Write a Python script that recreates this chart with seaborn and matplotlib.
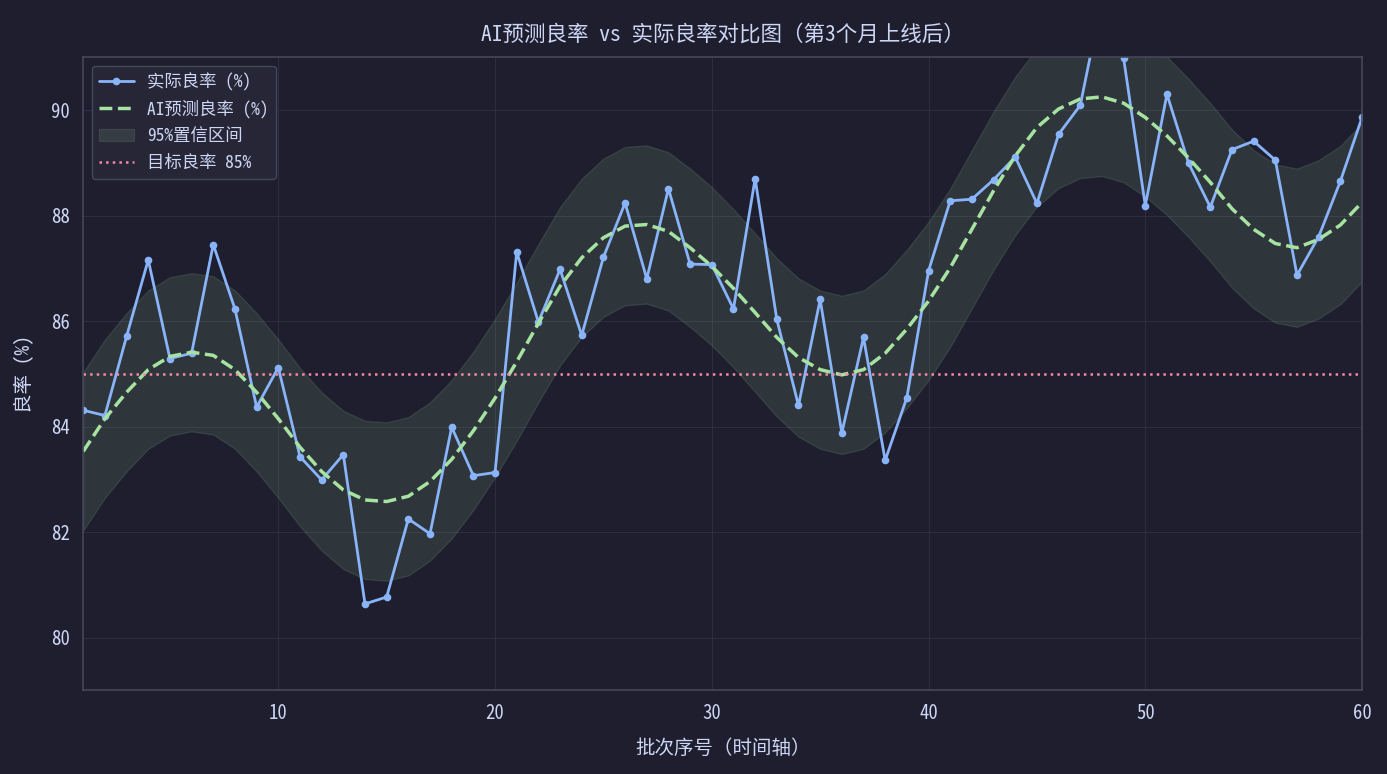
import numpy as np
import pandas as pd
import matplotlib
matplotlib.use('Agg')
import matplotlib.pyplot as plt
import seaborn as sns

# === colours (dark theme) ===
BG = '#1e1e2e'
TEXT = '#cdd6f4'
GRID = '#313244'
SPINE = '#45475a'
BLUE = '#89b4fa'
GREEN = '#a6e3a1'
PINK = '#f38ba8'

sns.set_theme(style='darkgrid')
plt.rcParams['font.family'] = ['Noto Sans Mono CJK SC', 'Noto Sans CJK SC', 'DejaVu Sans']
plt.rcParams['axes.unicode_minus'] = False

# === data ===
batch = list(range(1, 61))
actual = [84.31, 84.21, 85.71, 87.16, 85.29, 85.39, 87.45, 86.23, 84.37, 85.12,
          83.43, 82.99, 83.47, 80.64, 80.77, 82.25, 81.97, 83.99, 83.07, 83.13,
          87.31, 85.98, 86.98, 85.73, 87.21, 88.24, 86.80, 88.51, 87.08, 87.07,
          86.23, 88.70, 86.03, 84.40, 86.41, 83.88, 85.69, 83.36, 84.55, 86.95,
          88.28, 88.31, 88.68, 89.11, 88.23, 89.54, 90.09, 92.10, 90.98, 88.19,
          90.30, 88.99, 88.16, 89.25, 89.41, 89.05, 86.87, 87.60, 88.65, 89.86]
predicted = [83.53, 84.15, 84.65, 85.08, 85.33, 85.41, 85.35, 85.08, 84.65, 84.15,
             83.61, 83.15, 82.80, 82.61, 82.58, 82.68, 82.96, 83.38, 83.92, 84.54,
             85.23, 85.96, 86.66, 87.20, 87.58, 87.80, 87.83, 87.70, 87.39, 87.04,
             86.62, 86.16, 85.69, 85.31, 85.08, 84.98, 85.08, 85.39, 85.85, 86.38,
             87.01, 87.74, 88.47, 89.13, 89.67, 90.02, 90.21, 90.25, 90.13, 89.86,
             89.51, 89.09, 88.63, 88.13, 87.74, 87.47, 87.39, 87.55, 87.82, 88.25]
ci_half = 1.5
target = 85

df = pd.DataFrame({'batch': batch, 'actual': actual, 'predicted': predicted})
df['lower'] = df['predicted'] - ci_half
df['upper'] = df['predicted'] + ci_half

# === plot ===
fig, ax = plt.subplots(figsize=(13.87, 7.74), dpi=100)
fig.patch.set_facecolor(BG)
ax.set_facecolor(BG)

ax.fill_between(df['batch'], df['lower'], df['upper'], color=GREEN, alpha=0.12,
                edgecolor=GREEN, linewidth=1, label='95%置信区间')
sns.lineplot(data=df, x='batch', y='actual', ax=ax, color=BLUE, linewidth=2,
             marker='o', markersize=5.5, markeredgewidth=0, label='实际良率 (%)')
sns.lineplot(data=df, x='batch', y='predicted', ax=ax, color=GREEN, linewidth=2.5,
             linestyle='--', label='AI预测良率 (%)')
ax.axhline(target, color=PINK, linestyle=':', linewidth=1.8, label='目标良率 85%')

ax.set_xlim(1, 60)
ax.set_ylim(79, 91)
ax.set_title('AI预测良率 vs 实际良率对比图（第3个月上线后）', color=TEXT, fontsize=15.5, pad=12)
ax.set_xlabel('批次序号（时间轴）', color=TEXT, fontsize=14, labelpad=12)
ax.set_ylabel('良率 (%)', color=TEXT, fontsize=14, labelpad=12)
ax.tick_params(colors=TEXT, labelsize=13.5, length=4.5, width=1.2, color=TEXT, pad=5)
ax.grid(True, color=GRID, linewidth=0.8, alpha=0.8)
for sp in ax.spines.values():
    sp.set_visible(True)
    sp.set_color(SPINE)
    sp.set_linewidth(1.2)

# legend order as in the reference
handles, labels = ax.get_legend_handles_labels()
order = ['实际良率 (%)', 'AI预测良率 (%)', '95%置信区间', '目标良率 85%']
hmap = dict(zip(labels, handles))
leg = ax.legend([hmap[k] for k in order], order, loc='upper left', fontsize=12.5,
                facecolor='#262637', edgecolor=SPINE, framealpha=1)
for t in leg.get_texts():
    t.set_color(TEXT)

fig.subplots_adjust(left=0.06, right=0.982, top=0.926, bottom=0.108)
plt.savefig('out.png', dpi=100, facecolor=BG)
